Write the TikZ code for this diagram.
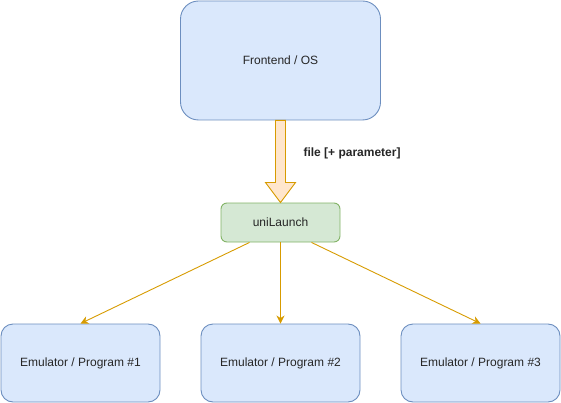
\documentclass[tikz,border=0pt]{standalone}
\usepackage{fontspec}
\setmainfont{Liberation Sans}
\usetikzlibrary{arrows.meta,calc}
\definecolor{bfill}{HTML}{DAE8FC}
\definecolor{bline}{HTML}{6C8EBF}
\definecolor{gfill}{HTML}{D5E8D4}
\definecolor{gline}{HTML}{82B366}
\definecolor{ofill}{HTML}{FFE6CC}
\definecolor{oline}{HTML}{D79B00}
\tikzset{
  bluebox/.style={draw=bline, fill=bfill, line width=0.9pt, inner sep=0pt, font=\fontsize{12}{14}\selectfont, text=black!85},
  greenbox/.style={draw=gline, fill=gfill, line width=0.9pt, inner sep=0pt, rounded corners=6pt, font=\fontsize{12}{14}\selectfont, text=black!85},
  conn/.style={draw=oline, line width=0.9pt, -{Stealth[length=8pt,width=8pt,inset=2.5pt]}},
  blockarrow/.style={draw=oline, fill=ofill, line width=0.9pt, line join=miter},
}
\begin{document}
\begin{tikzpicture}[x=1pt,y=-1pt]
\useasboundingbox (0,0) rectangle (561,403);
\node[bluebox, rounded corners=18pt, minimum width=200pt, minimum height=119pt] (fe) at (280.5,60.5) {Frontend / OS};
\node[greenbox, minimum width=119pt, minimum height=39pt] (ul) at (280.5,222.5) {uniLaunch};
\node[bluebox, rounded corners=12pt, minimum width=159pt, minimum height=78pt] (e1) at (80.5,363) {Emulator / Program \#1};
\node[bluebox, rounded corners=12pt, minimum width=159pt, minimum height=78pt] (e2) at (280.5,363) {Emulator / Program \#2};
\node[bluebox, rounded corners=12pt, minimum width=159pt, minimum height=78pt] (e3) at (480.5,363) {Emulator / Program \#3};
% block arrow
\coordinate (bt) at (fe.south);
\coordinate (tip) at (ul.north);
\draw[blockarrow] ($(bt)+(-5,0)$) -- ($(bt)+(5,0)$) -- ($(tip)+(5,-20)$) -- ($(tip)+(15,-20)$) -- (tip) -- ($(tip)+(-15,-20)$) -- ($(tip)+(-5,-20)$) -- cycle;
\node[anchor=west, font=\bfseries\fontsize{12}{14}\selectfont, text=black!85] (lbl) at (300,153) {file [+ parameter]};
% connectors
\draw[conn] ($(ul.south)+(-31,0)$) -- (e1.north);
\draw[conn] (ul.south) -- (e2.north);
\draw[conn] ($(ul.south)+(31,0)$) -- (e3.north);
\end{tikzpicture}
\end{document}
